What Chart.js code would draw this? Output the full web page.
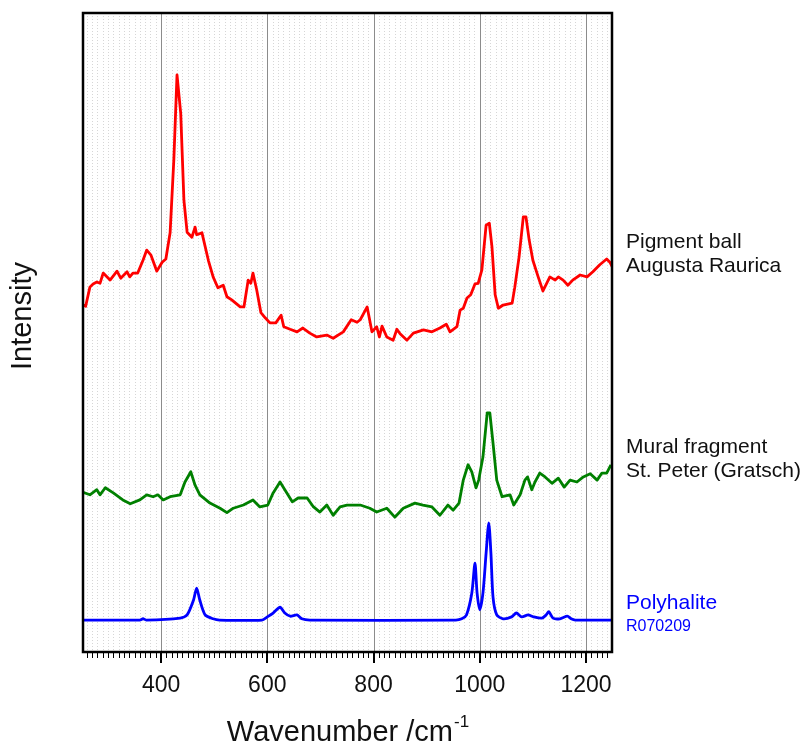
<!DOCTYPE html>
<html>
<head>
<title>Raman spectra - Polyhalite</title>
<script src="https://cdn.jsdelivr.net/npm/chart.js@4/dist/chart.umd.min.js"></script>
<style>
  html, body { margin: 0; padding: 0; background: #fff; }
  #container { width: 805px; height: 748px; }
</style>
</head>
<body>
<div id="container">
  <canvas id="canvas" width="805" height="748"></canvas></div>
<script>

// x range of the plot, wavenumber /cm-1
var xMin = 253;
var xMax = 1249;
var majorTicks = [400, 600, 800, 1000, 1200];

// Pigment ball, Augusta Raurica (red)
var redX = [253, 258, 266, 272, 279, 285, 291, 304, 317, 324, 336, 341, 347, 356, 366, 373, 381, 392, 402, 409,
  417, 424, 430, 437, 443, 449, 458, 464, 467, 477, 489, 498, 507, 517, 524, 533, 549, 556, 564, 569,
  573, 580, 588, 596, 605, 616, 626, 631, 643, 656, 667, 680, 693, 712, 724, 743, 758, 769, 775, 788,
  797, 806, 811, 816, 825, 837, 844, 850, 863, 875, 894, 910, 925, 937, 944, 957, 963, 969, 976, 983,
  991, 997, 1004, 1012, 1018, 1023, 1029, 1035, 1044, 1061, 1066, 1074, 1082, 1087, 1093, 1100, 1110, 1119, 1126, 1132,
  1142, 1148, 1157, 1166, 1175, 1189, 1202, 1213, 1226, 1239, 1245, 1250];
var redY = [54.3, 54.1, 57.1, 57.6, 57.9, 57.7, 59.3, 58.2, 59.6, 58.5, 59.5, 58.7, 59.3, 59.3, 61.3, 62.9, 62.1, 59.6, 61.0, 61.5,
  65.6, 77.0, 90.3, 84.3, 70.7, 65.7, 64.9, 66.5, 65.3, 65.6, 61.3, 58.7, 57.0, 57.4, 55.6, 55.1, 54.0, 54.0, 58.2, 57.7,
  59.3, 56.7, 53.1, 52.3, 51.5, 51.5, 52.7, 50.9, 50.5, 50.1, 50.7, 49.9, 49.3, 49.6, 49.1, 50.1, 52.0, 51.6, 52.0, 54.0,
  50.1, 50.9, 49.3, 51.0, 49.3, 48.8, 50.5, 49.8, 48.8, 49.9, 50.4, 50.1, 50.7, 51.3, 50.1, 50.9, 53.5, 53.8, 55.4, 55.9,
  57.6, 57.7, 59.8, 66.8, 67.1, 63.4, 55.9, 53.8, 54.3, 54.6, 57.1, 61.8, 68.1, 68.1, 64.5, 61.3, 58.7, 56.5, 57.7, 58.7,
  58.2, 58.7, 58.2, 57.4, 58.2, 59.0, 58.7, 59.5, 60.6, 61.5, 61.0, 60.2];

// Mural fragment, St. Peter (Gratsch) (green)
var greenX = [253, 266, 279, 285, 295, 310, 328, 342, 360, 373, 385, 394, 404, 417, 436, 445, 456, 464, 473, 492,
  511, 524, 536, 555, 573, 586, 601, 611, 624, 633, 647, 658, 675, 686, 699, 712, 724, 737, 750, 769,
  775, 793, 806, 825, 840, 856, 878, 893, 910, 925, 940, 950, 961, 969, 978, 985, 993, 998, 1006, 1014,
  1019, 1025, 1032, 1042, 1057, 1064, 1076, 1085, 1090, 1098, 1104, 1113, 1123, 1136, 1148, 1159, 1170, 1183, 1195, 1208,
  1221, 1230, 1239, 1247];
var greenY = [25.0, 24.6, 25.4, 24.6, 25.7, 24.9, 23.8, 23.2, 23.8, 24.6, 24.3, 24.6, 23.8, 24.3, 24.6, 26.6, 28.2, 26.1, 24.6, 23.3,
  22.5, 21.8, 22.5, 23.0, 23.8, 22.7, 23.0, 24.9, 26.6, 25.4, 23.5, 24.1, 24.1, 22.8, 21.9, 23.0, 21.4, 22.7, 23.0, 23.0,
  23.0, 22.5, 21.9, 22.5, 21.1, 22.5, 23.3, 23.0, 22.7, 21.4, 23.0, 22.2, 23.3, 26.9, 29.3, 28.2, 25.7, 26.9, 30.5, 37.4,
  37.4, 32.7, 26.9, 24.3, 24.6, 23.0, 24.6, 26.9, 27.4, 25.4, 26.6, 28.0, 27.4, 26.4, 27.2, 25.8, 26.9, 26.6, 27.4, 27.9,
  26.9, 28.0, 28.0, 29.3];

// Polyhalite reference R070209 (blue)
var blueX = [250, 360, 366, 372, 436, 449, 461, 467, 473, 483, 498, 510, 590, 600, 611, 624, 633, 643, 656, 665,
  680, 955, 966, 975, 985, 991, 995, 1000, 1006, 1012, 1017, 1021, 1025, 1032, 1044, 1060, 1069, 1079, 1091, 1101,
  1117, 1125, 1130, 1138, 1151, 1165, 1172, 1180, 1250];
var blueY = [5.0, 5.0, 5.2, 5.0, 5.3, 5.8, 8.1, 10.0, 8.1, 5.8, 5.2, 5.0, 5.0, 5.5, 6.1, 7.0, 6.1, 5.6, 5.8, 5.2,
  5.0, 5.0, 5.2, 5.8, 9.2, 13.9, 9.2, 6.6, 9.2, 15.5, 20.2, 15.5, 8.6, 5.8, 5.2, 5.5, 6.1, 5.5, 5.8, 5.5,
  5.3, 5.8, 6.3, 5.3, 5.2, 5.6, 5.2, 5.0, 5.0];

var seriesLabels = [
  { lines: ['Pigment ball', 'Augusta Raurica'], y: 242, color: '#111', size: [21, 21] },
  { lines: ['Mural fragment', 'St. Peter (Gratsch)'], y: 447, color: '#111', size: [21, 21] },
  { lines: ['Polyhalite', 'R070209'], y: 603, color: '#0000ff', size: [21, 16] }
];

function toPoints(xs, ys) {
  return xs.map(function (x, i) { return { x: x, y: ys[i] }; });
}

var FONT = "'Liberation Sans', Arial, sans-serif";

// grid, frame, ticks and text labels
var decorations = {
  id: 'decorations',
  beforeDatasetsDraw: function (chart) {
    var ctx = chart.ctx, a = chart.chartArea, xs = chart.scales.x;
    ctx.save();
    // minor dotted grid every 10
    ctx.strokeStyle = '#d6d6d6';
    ctx.lineWidth = 1;
    ctx.setLineDash([1, 2]);
    for (var v = 260; v < xMax; v += 10) {
      if (v % 200 === 0) continue;
      var px = Math.round(xs.getPixelForValue(v)) + 0.5;
      ctx.beginPath(); ctx.moveTo(px, a.top); ctx.lineTo(px, a.bottom); ctx.stroke();
    }
    // major grid
    ctx.setLineDash([]);
    ctx.strokeStyle = '#8c8c8c';
    majorTicks.forEach(function (v) {
      var px = Math.round(xs.getPixelForValue(v)) + 0.5;
      ctx.beginPath(); ctx.moveTo(px, a.top); ctx.lineTo(px, a.bottom); ctx.stroke();
    });
    ctx.restore();
  },
  afterDatasetsDraw: function (chart) {
    var ctx = chart.ctx, a = chart.chartArea, xs = chart.scales.x;
    ctx.save();
    ctx.strokeStyle = '#000';
    // minor ticks
    ctx.lineWidth = 1;
    for (var v = 260; v < xMax; v += 10) {
      var px = Math.round(xs.getPixelForValue(v)) + 0.5;
      ctx.beginPath(); ctx.moveTo(px, a.bottom); ctx.lineTo(px, a.bottom + 6); ctx.stroke();
    }
    // major ticks
    ctx.lineWidth = 2;
    majorTicks.forEach(function (v) {
      var px = Math.round(xs.getPixelForValue(v));
      ctx.beginPath(); ctx.moveTo(px, a.bottom); ctx.lineTo(px, a.bottom + 11); ctx.stroke();
    });
    // frame
    ctx.lineWidth = 2.5;
    ctx.strokeRect(a.left, a.top, a.right - a.left, a.bottom - a.top);
    ctx.restore();
  },
  afterDraw: function (chart) {
    var ctx = chart.ctx, a = chart.chartArea;
    ctx.save();
    ctx.fillStyle = '#111';
    ctx.textBaseline = 'middle';

    // y title
    ctx.save();
    ctx.translate(23, 316);
    ctx.rotate(-Math.PI / 2);
    ctx.textAlign = 'center';
    ctx.font = '29px ' + FONT;
    ctx.fillText('Intensity', 0, 0);
    ctx.restore();

    // x title with superscript
    var main = 'Wavenumber /cm', sup = '-1';
    ctx.font = '29px ' + FONT;
    var wMain = ctx.measureText(main).width;
    ctx.font = '17px ' + FONT;
    var wSup = ctx.measureText(sup).width;
    var cx = (a.left + a.right) / 2;
    var x0 = cx - (wMain + wSup) / 2;
    ctx.textAlign = 'left';
    ctx.font = '29px ' + FONT;
    ctx.fillText(main, x0, 733);
    ctx.font = '17px ' + FONT;
    ctx.fillText(sup, x0 + wMain + 1, 722);

    // series labels on the right
    seriesLabels.forEach(function (s) {
      ctx.fillStyle = s.color;
      s.lines.forEach(function (t, i) {
        ctx.font = s.size[i] + 'px ' + FONT;
        ctx.fillText(t, a.right + 14, s.y + i * 24);
      });
    });
    ctx.restore();
  }
};

var ctx = document.getElementById('canvas').getContext('2d');
window.spectraChart = new Chart(ctx, {
  type: 'line',
  data: {
    datasets: [
      { label: 'Pigment ball Augusta Raurica', data: toPoints(redX, redY), borderColor: '#ff0000' },
      { label: 'Mural fragment St. Peter (Gratsch)', data: toPoints(greenX, greenY), borderColor: '#008000' },
      { label: 'Polyhalite R070209', data: toPoints(blueX, blueY), borderColor: '#0000ff', tension: 0.25 }
    ]
  },
  options: {
    responsive: false,
    animation: false,
    devicePixelRatio: 1,
    layout: { padding: { left: 83, right: 193, top: 13, bottom: 0 } },
    elements: {
      point: { radius: 0 },
      line: { borderWidth: 2.8, fill: false, tension: 0, borderJoinStyle: 'round' }
    },
    plugins: { legend: { display: false }, tooltip: { enabled: false } },
    scales: {
      x: {
        type: 'linear',
        min: xMin,
        max: xMax,
        afterFit: function (s) { s.height = 96; },
        afterBuildTicks: function (s) { s.ticks = majorTicks.map(function (v) { return { value: v }; }); },
        grid: { display: false, drawTicks: false },
        border: { display: false },
        ticks: {
          padding: 20,
          maxRotation: 0,
          autoSkip: false,
          color: '#111',
          font: { size: 23, family: FONT },
          callback: function (v) { return String(v); }
        }
      },
      y: {
        display: false,
        min: 0,
        max: 100
      }
    }
  },
  plugins: [decorations]
});

</script>
</body>
</html>
